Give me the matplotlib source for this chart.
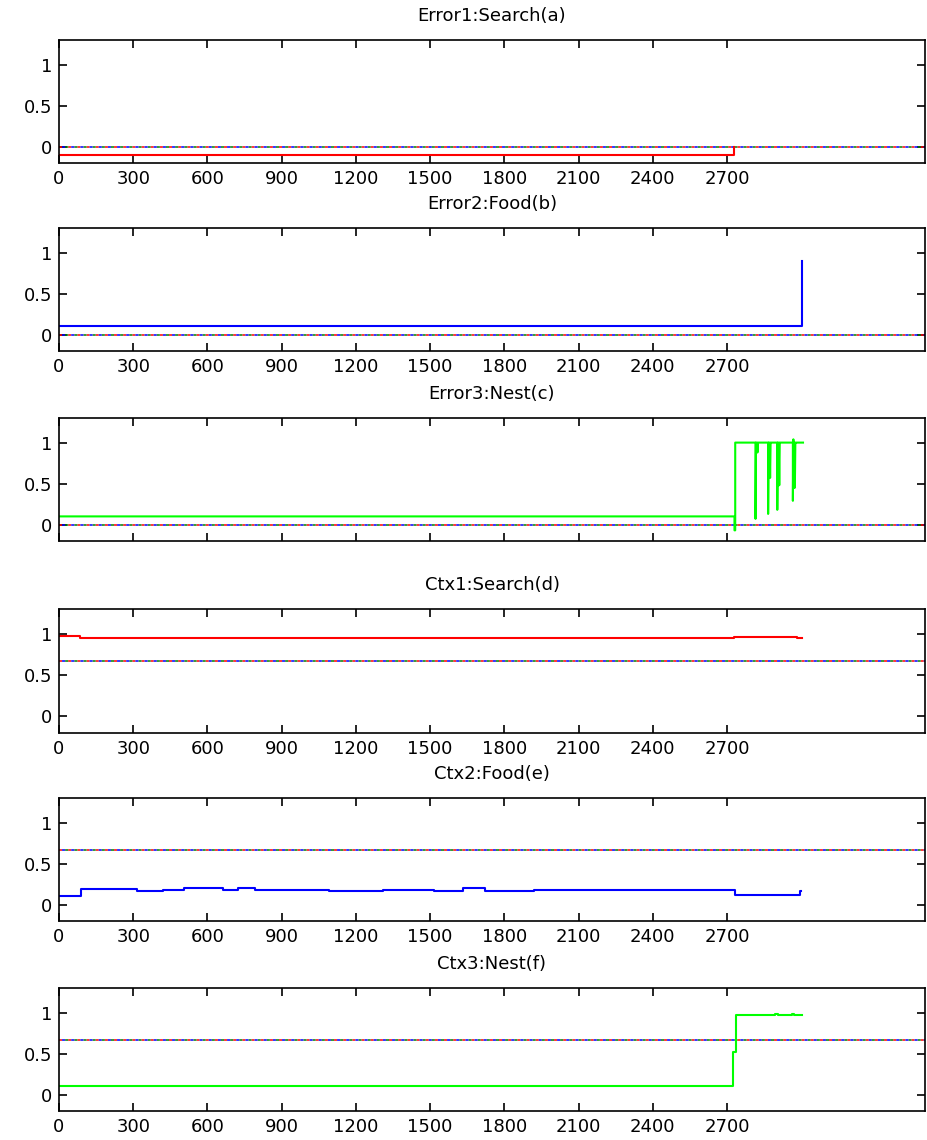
import matplotlib
matplotlib.use("Agg")
import matplotlib.pyplot as plt

# x ticks / limits (MATLAB style axes)
x_ticks = [0, 300, 600, 900, 1200, 1500, 1800, 2100, 2400, 2700]
y_ticks = [0, 0.5, 1]

titles = ['Error1:Search(a)', 'Error2:Food(b)', 'Error3:Nest(c)',
          'Ctx1:Search(d)', 'Ctx2:Food(e)', 'Ctx3:Nest(f)']

# threshold level drawn as the multicoloured dash line in each panel
thresholds = [0, 0, 0, 0.667, 0.667, 0.667]

# (a) red error trace
err_search_x = [0, 2730, 2730]
err_search_y = [-0.1, -0.1, 0.0]

# (b) blue error trace
err_food_x = [0, 3003, 3003]
err_food_y = [0.1, 0.1, 0.9]

# (c) green error trace with drops
err_nest_x = [0, 2730, 2730, 2733, 2733,
              2815, 2815, 2817, 2819, 2821, 2823, 2825, 2827,
              2866, 2866, 2868, 2870, 2872, 2874, 2876, 2878,
              2903, 2903, 2905, 2907, 2909, 2911, 2913, 2915,
              2966, 2966, 2968, 2970, 2972, 2974, 2976, 2978, 3007]
err_nest_y = [0.1, 0.1, -0.07, -0.07, 1.0,
              1.0, 0.07, 1.0, 0.88, 1.0, 0.88, 1.0, 1.0,
              1.0, 0.13, 1.0, 0.57, 1.0, 0.57, 1.0, 1.0,
              1.0, 0.18, 1.0, 0.48, 1.0, 0.48, 1.0, 1.0,
              1.0, 0.29, 1.04, 0.45, 1.0, 0.45, 1.0, 1.0, 1.0]

# (d) red context trace (step points)
ctx_search_x = [0, 85, 2728, 2981, 3002]
ctx_search_y = [0.973, 0.944, 0.964, 0.944, 0.944]

# (e) blue context trace (step points)
ctx_food_x = [0, 88, 314, 419, 507, 662, 725, 792, 1093, 1308, 1517,
              1634, 1722, 1920, 2732, 2995, 3000]
ctx_food_y = [0.11, 0.186, 0.16, 0.178, 0.198, 0.178, 0.198, 0.178, 0.16,
              0.178, 0.16, 0.198, 0.16, 0.178, 0.113, 0.16, 0.16]

# (f) green context trace (step points)
ctx_nest_x = [0, 2725, 2737, 2895, 2905, 2962, 2972, 3003]
ctx_nest_y = [0.1, 0.52, 0.975, 0.985, 0.975, 0.985, 0.975, 0.975]

traces = [
    (err_search_x, err_search_y, 'red', None),
    (err_food_x, err_food_y, 'blue', None),
    (err_nest_x, err_nest_y, 'lime', None),
    (ctx_search_x, ctx_search_y, 'red', 'steps-post'),
    (ctx_food_x, ctx_food_y, 'blue', 'steps-post'),
    (ctx_nest_x, ctx_nest_y, 'lime', 'steps-post'),
]

# axes boxes in pixels (top, bottom)
boxes = [(40, 163), (228, 351), (418, 541), (609, 733), (798, 921), (988, 1111)]

W, H = 927, 1140
fig = plt.figure(figsize=(W / 100, H / 100), dpi=100)
plt.rcParams['font.family'] = 'DejaVu Sans'

left, right = 59, 925
for i, (top, bot) in enumerate(boxes):
    ax = fig.add_axes([left / W, 1 - bot / H, (right - left) / W, (bot - top) / H])
    xs, ys, col, ds = traces[i]
    th = thresholds[i]
    # multicoloured dotted threshold (overlapping series)
    ax.plot([0, 3500], [th, th], color='red', lw=1.1, linestyle=(0, (2, 4)))
    ax.plot([0, 3500], [th, th], color='green', lw=1.1, linestyle=(2, (2, 4)))
    ax.plot([0, 3500], [th, th], color='blue', lw=1.1, linestyle=(4, (2, 4)))
    if ds:
        ax.plot(xs, ys, color=col, lw=1.5, drawstyle=ds)
    else:
        ax.plot(xs, ys, color=col, lw=1.5)
    ax.set_xlim(0, 3500)
    ax.set_ylim(-0.2, 1.3)
    ax.set_xticks(x_ticks)
    ax.set_yticks(y_ticks)
    ax.set_yticklabels(['0', '0.5', '1'])
    ax.tick_params(direction='in', top=True, right=True, length=6, width=1.2,
                   labelsize=13, pad=5)
    if i == 2:
        ax.set_xticklabels([])
    for sp in ax.spines.values():
        sp.set_linewidth(1.2)
    ax.set_title(titles[i], fontsize=13, pad=14)

fig.savefig('out.png', dpi=100)
